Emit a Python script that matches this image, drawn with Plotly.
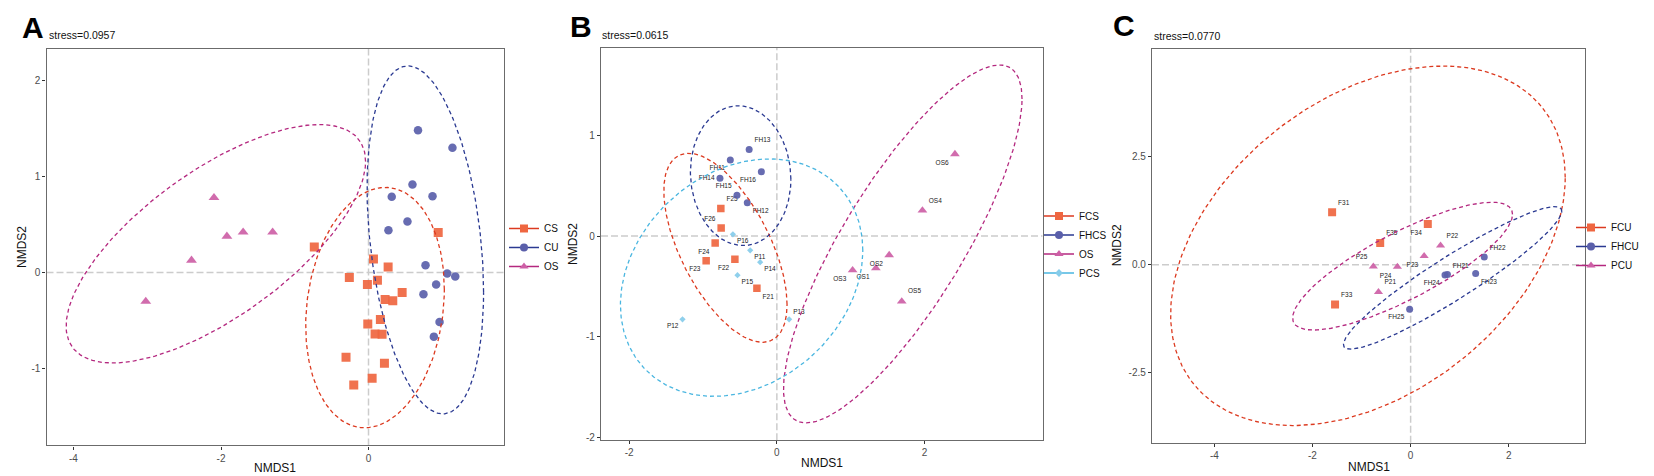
import numpy as np
import plotly.graph_objects as go

W, H = 1654, 476

# ---------------- Panel A data ----------------
A_CS_x = [-0.735, 0.945, 0.067, 0.266, -0.26, -0.015, 0.121, 0.456, 0.225, 0.329, 0.161, -0.01, 0.089, 0.184, -0.305, 0.216, 0.049, -0.20]
A_CS_y = [0.266, 0.418, 0.142, 0.059, -0.05, -0.124, -0.079, -0.207, -0.28, -0.293, -0.487, -0.535, -0.638, -0.642, -0.88, -0.943, -1.10, -1.17]
A_CU_x = [0.671, 1.138, 0.596, 0.315, 0.868, 0.528, 0.27, 0.773, 1.067, 1.176, 0.917, 0.745, 0.963, 0.886]
A_CU_y = [1.482, 1.299, 0.916, 0.79, 0.795, 0.532, 0.44, 0.077, -0.01, -0.04, -0.124, -0.224, -0.514, -0.666]
A_OS_x = [-2.095, -1.92, -1.70, -1.30, -2.40, -3.02]
A_OS_y = [0.78, 0.377, 0.42, 0.42, 0.128, -0.30]
A_groups = ["CS", "CU", "OS"]
A_ell_cx = [0.088, 0.77, -2.07]
A_ell_cy = [-0.364, 0.34, 0.30]
A_ell_hx = [0.94, 0.79, 2.03]
A_ell_hy = [1.25, 1.81, 1.24]
A_ell_rho = [0.15, -0.30, 0.69]

# ---------------- Panel B data ----------------
B_FCS_lab = ["F25", "F26", "F24", "F23", "F22", "F21"]
B_FCS_x = [-0.758, -0.754, -0.835, -0.957, -0.568, -0.27]
B_FCS_y = [0.274, 0.079, -0.069, -0.247, -0.23, -0.52]
B_FHCS_lab = ["FH13", "FH11", "FH16", "FH14", "FH15", "FH12"]
B_FHCS_x = [-0.375, -0.63, -0.21, -0.77, -0.54, -0.40]
B_FHCS_y = [0.861, 0.756, 0.64, 0.574, 0.406, 0.33]
B_OS_lab = ["OS6", "OS4", "OS2", "OS1", "OS3", "OS5"]
B_OS_x = [2.41, 1.97, 1.52, 1.34, 1.025, 1.69]
B_OS_y = [0.815, 0.254, -0.19, -0.32, -0.34, -0.65]
B_PCS_lab = ["P16", "P11", "P14", "P15", "P13", "P12"]
B_PCS_x = [-0.595, -0.361, -0.226, -0.533, 0.166, -1.277]
B_PCS_y = [0.017, -0.142, -0.26, -0.389, -0.828, -0.828]
B_groups = ["FCS", "FHCS", "OS", "PCS"]
B_ell_cx = [-0.696, -0.49, 1.704, -0.477]
B_ell_cy = [-0.117, 0.60, -0.079, -0.414]
B_ell_hx = [0.834, 0.68, 1.614, 1.64]
B_ell_hy = [0.94, 0.695, 1.779, 1.18]
B_ell_rho = [-0.60, -0.05, 0.81, 0.23]

# ---------------- Panel C data ----------------
C_FCU_lab = ["F31", "F34", "F35", "F33"]
C_FCU_x = [-1.60, 0.35, -0.62, -1.54]
C_FCU_y = [1.21, 0.94, 0.50, -0.92]
C_FHCU_lab = ["FH22", "FH21", "FH24", "FH23", "FH25"]
C_FHCU_x = [1.50, 0.75, 0.70, 1.325, -0.02]
C_FHCU_y = [0.176, -0.23, -0.24, -0.207, -1.03]
C_PCU_lab = ["P22", "P23", "P25", "P24", "P21"]
C_PCU_x = [0.61, 0.275, -0.76, -0.27, -0.655]
C_PCU_y = [0.44, 0.20, -0.04, -0.05, -0.63]
C_groups = ["FCU", "FHCU", "PCU"]
C_ell_cx = [-0.87, 0.855, -0.164]
C_ell_cy = [0.435, -0.305, -0.035]
C_ell_hx = [4.02, 2.225, 2.24]
C_ell_hy = [4.15, 1.645, 1.475]
C_ell_rho = [0.38, 0.935, 0.81]

stress_txt = ["stress=0.0957", "stress=0.0615", "stress=0.0770"]
panel_letters = ["A", "B", "C"]

# ---------------- styles ----------------
FONT = "Liberation Sans, Arial, sans-serif"
RED_M, RED_L = "#EF6640", "#DC3A20"
BLU_M, BLU_L = "#5A5FAA", "#2B3A92"
MAG_M, MAG_L = "#CD5FA6", "#B4287F"
CYA_M, CYA_L = "#86CCEA", "#4AB6E0"

fig = go.Figure()


def ellipse(cx, cy, hx, hy, rho):
    t = np.linspace(0, 2 * np.pi, 241)
    ex = cx + hx * np.cos(t)
    ey = cy + hy * (rho * np.cos(t) + np.sqrt(1 - rho ** 2) * np.sin(t))
    return ex, ey


def add_points(x, y, xa, ya, color, symbol, size, labels=None, pos=None):
    fig.add_trace(go.Scatter(
        x=x, y=y, xaxis=xa, yaxis=ya,
        mode="markers+text" if labels else "markers",
        text=labels, textposition=pos,
        textfont=dict(size=6.5, color="#222222", family=FONT),
        marker=dict(color=color, symbol=symbol, size=size, opacity=0.92, line=dict(width=0)),
        showlegend=False, hoverinfo="skip"))


def add_ellipses(cx, cy, hx, hy, rho, colors, xa, ya):
    for i in range(len(cx)):
        ex, ey = ellipse(cx[i], cy[i], hx[i], hy[i], rho[i])
        fig.add_trace(go.Scatter(x=ex, y=ey, xaxis=xa, yaxis=ya, mode="lines",
                                 line=dict(color=colors[i], width=1.3, dash="4px,3px"),
                                 showlegend=False, hoverinfo="skip"))


def add_legend(names, mcolors, lcolors, symbols, sizes, legend):
    for n, mc, lc, s, sz in zip(names, mcolors, lcolors, symbols, sizes):
        fig.add_trace(go.Scatter(x=[None], y=[None], mode="lines+markers", name=n,
                                 line=dict(color=lc, width=1.5),
                                 marker=dict(color=mc, symbol=s, size=sz),
                                 legend=legend, showlegend=True))


# Panel A
add_points(A_CS_x, A_CS_y, "x", "y", RED_M, "square", 9)
add_points(A_CU_x, A_CU_y, "x", "y", BLU_M, "circle", 8.5)
add_points(A_OS_x, A_OS_y, "x", "y", MAG_M, "triangle-up", 9.5)
add_ellipses(A_ell_cx, A_ell_cy, A_ell_hx, A_ell_hy, A_ell_rho, [RED_L, BLU_L, MAG_L], "x", "y")
add_legend(A_groups, [RED_M, BLU_M, MAG_M], [RED_L, BLU_L, MAG_L],
           ["square", "circle", "triangle-up"], [8, 8, 8], "legend")

# Panel B
add_points(B_FCS_x, B_FCS_y, "x2", "y2", RED_M, "square", 7.5, B_FCS_lab,
           ["top right", "top left", "bottom left", "bottom left", "bottom left", "bottom right"])
add_points(B_FHCS_x, B_FHCS_y, "x2", "y2", BLU_M, "circle", 7, B_FHCS_lab,
           ["top right", "bottom left", "bottom left", "middle left", "top left", "bottom right"])
add_points(B_OS_x, B_OS_y, "x2", "y2", MAG_M, "triangle-up", 8.5, B_OS_lab,
           ["bottom left", "top right", "bottom left", "bottom left", "bottom left", "top right"])
add_points(B_PCS_x, B_PCS_y, "x2", "y2", CYA_M, "diamond", 4.8, B_PCS_lab,
           ["bottom right", "bottom right", "bottom right", "bottom right", "top right", "bottom left"])
add_ellipses(B_ell_cx, B_ell_cy, B_ell_hx, B_ell_hy, B_ell_rho, [RED_L, BLU_L, MAG_L, CYA_L], "x2", "y2")
add_legend(B_groups, [RED_M, BLU_M, MAG_M, CYA_M], [RED_L, BLU_L, MAG_L, CYA_L],
           ["square", "circle", "triangle-up", "diamond"], [8, 8, 8, 6], "legend2")

# Panel C
add_points(C_FCU_x, C_FCU_y, "x3", "y3", RED_M, "square", 8, C_FCU_lab,
           ["top right", "bottom left", "top right", "top right"])
add_points(C_FHCU_x, C_FHCU_y, "x3", "y3", BLU_M, "circle", 7, C_FHCU_lab,
           ["top right", "top right", "bottom left", "bottom right", "bottom left"])
add_points(C_PCU_x, C_PCU_y, "x3", "y3", MAG_M, "triangle-up", 8, C_PCU_lab,
           ["top right", "bottom left", "top left", "bottom left", "top right"])
add_ellipses(C_ell_cx, C_ell_cy, C_ell_hx, C_ell_hy, C_ell_rho, [RED_L, BLU_L, MAG_L], "x3", "y3")
add_legend(C_groups, [RED_M, BLU_M, MAG_M], [RED_L, BLU_L, MAG_L],
           ["square", "circle", "triangle-up"], [8, 8, 8], "legend3")


def px_x(p):
    return p / W


def px_y(p):
    return 1 - p / H


def axis_common(dom, rng, tv, tt, anchor):
    return dict(domain=dom, range=rng, tickvals=tv, ticktext=tt, anchor=anchor,
                showgrid=False, zeroline=False, showline=True, mirror=True,
                linecolor="#6B6B6B", linewidth=1.3, ticks="outside", ticklen=3,
                tickcolor="#333333", tickwidth=1,
                tickfont=dict(size=10, color="#4D4D4D", family=FONT))


fig.update_layout(
    width=W, height=H, margin=dict(l=0, r=0, t=0, b=0),
    paper_bgcolor="white", plot_bgcolor="white",
    font=dict(family=FONT),
    xaxis=axis_common([px_x(38.5), px_x(496)], [-4.366, 1.837], [-4, -2, 0], ["-4", "-2", "0"], "y"),
    yaxis=axis_common([px_y(439.3), px_y(40.7)], [-1.798, 2.331], [-1, 0, 1, 2], ["-1", "0", "1", "2"], "x"),
    xaxis2=axis_common([px_x(593), px_x(1034.5)], [-2.38, 3.595], [-2, 0, 2], ["-2", "0", "2"], "y2"),
    yaxis2=axis_common([px_y(434), px_y(40)], [-2.03, 1.871], [-2, -1, 0, 1], ["-2", "-1", "0", "1"], "x2"),
    xaxis3=axis_common([px_x(1144), px_x(1577)], [-5.27, 3.553], [-4, -2, 0, 2], ["-4", "-2", "0", "2"], "y3"),
    yaxis3=axis_common([px_y(436.7), px_y(40.7)], [-4.115, 4.99], [-2.5, 0, 2.5], ["-2.5", "0.0", "2.5"], "x3"),
)

leg_common = dict(xanchor="left", yanchor="middle", font=dict(size=10, color="#111111", family=FONT),
                  bgcolor="rgba(0,0,0,0)", itemwidth=30, tracegroupgap=0)
fig.update_layout(
    legend=dict(x=px_x(496), y=px_y(240.5), **leg_common),
    legend2=dict(x=px_x(1031), y=px_y(237.5), **leg_common),
    legend3=dict(x=px_x(1563), y=px_y(239.5), **leg_common),
)

# zero reference lines
shapes = []
for xa, ya in [("x", "y"), ("x2", "y2"), ("x3", "y3")]:
    shapes.append(dict(type="line", xref=xa, yref=ya + " domain", x0=0, x1=0, y0=0, y1=1,
                       line=dict(color="#CCCCCC", width=1.5, dash="7px,3px"), layer="below"))
    shapes.append(dict(type="line", xref=xa + " domain", yref=ya, x0=0, x1=1, y0=0, y1=0,
                       line=dict(color="#CCCCCC", width=1.5, dash="7px,3px"), layer="below"))
fig.update_layout(shapes=shapes)

ann = []
# panel letters
for letter, (lx, ly) in zip(panel_letters, [(24.5, 20), (572.5, 19), (1116, 18)]):
    ann.append(dict(text="<b>" + letter + "</b>", x=px_x(lx), y=px_y(ly), xref="paper", yref="paper",
                    showarrow=False, xanchor="center", yanchor="middle",
                    font=dict(size=30, color="black", family=FONT)))
# stress
for s, (sx, sy) in zip(stress_txt, [(38.5, 27.3), (592, 27), (1144, 27.7)]):
    ann.append(dict(text=s, x=px_x(sx), y=px_y(sy), xref="paper", yref="paper", showarrow=False,
                    xanchor="left", yanchor="middle", font=dict(size=10.5, color="#111111", family=FONT)))
# axis titles
for (tx, ty) in [(267, 461.7), (813.5, 456.7), (1360.5, 460.7)]:
    ann.append(dict(text="NMDS1", x=px_x(tx), y=px_y(ty), xref="paper", yref="paper", showarrow=False,
                    xanchor="center", yanchor="middle", font=dict(size=12, color="#111111", family=FONT)))
for (tx, ty) in [(14, 240), (565, 237), (1109, 238.3)]:
    ann.append(dict(text="NMDS2", x=px_x(tx), y=px_y(ty), xref="paper", yref="paper", showarrow=False,
                    textangle=-90, xanchor="center", yanchor="middle",
                    font=dict(size=12, color="#111111", family=FONT)))
fig.update_layout(annotations=ann)

fig.write_html("out.html")
